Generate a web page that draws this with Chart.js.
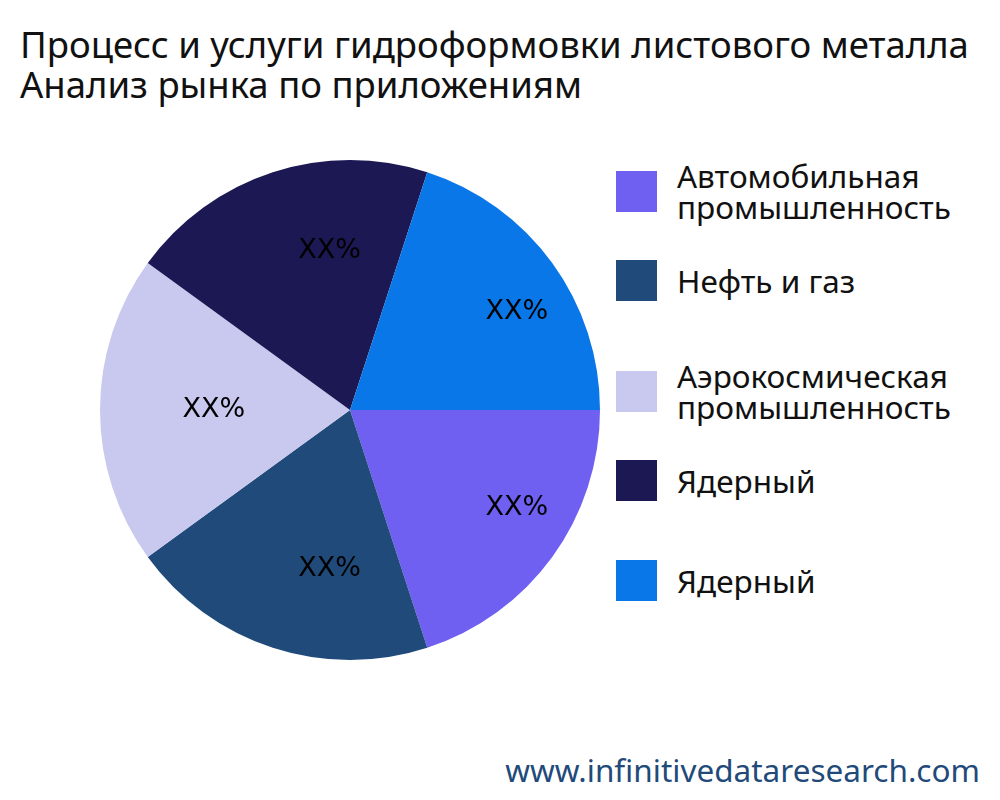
<!DOCTYPE html>
<html><head><meta charset="utf-8">
<script src="https://cdn.jsdelivr.net/npm/chart.js@4"></script>
<style>
body{margin:0;width:1000px;height:800px;background:#fff;font-family:"Noto Sans",sans-serif;position:relative;overflow:hidden}
#title{position:absolute;left:20px;top:24px;font-size:36.5px;line-height:40px;color:#111;white-space:nowrap}
#wrap{position:absolute;left:100px;top:160px;width:500px;height:500px}
.leg{position:absolute;left:616px;display:flex;align-items:center;font-size:31.5px;line-height:31px;color:#111;white-space:nowrap}
.sw{width:41px;height:41px;margin-right:20px;flex:none}
#src{position:absolute;right:20px;top:748px;font-size:31.5px;color:#1F4A7A}
</style></head><body>
<div id="title">Процесс и услуги гидроформовки листового металла<br>Анализ рынка по приложениям</div>
<div id="wrap"><canvas id="c" width="500" height="500"></canvas></div>
<div id="legend"></div>
<div id="src">www.infinitivedataresearch.com</div>
<script>
const labels = ["Автомобильная промышленность", "Нефть и газ", "Аэрокосмическая промышленность", "Ядерный", "Ядерный"];
const legendText = ["Автомобильная<br>промышленность", "Нефть и газ", "Аэрокосмическая<br>промышленность", "Ядерный", "Ядерный"];
const values = [20, 20, 20, 20, 20];
const sliceLabels = ["XX%", "XX%", "XX%", "XX%", "XX%"];
const colors = ["#7060F2", "#1F4A7A", "#C9C8EE", "#1C1854", "#0A77E8"];
const legendTops = [160, 260, 360, 460, 560];

// Legend
const lg = document.getElementById("legend");
labels.forEach((l, i) => {
    lg.innerHTML += `<div class="leg" style="top:${legendTops[i]}px"><div class="sw" style="background:${colors[i]}"></div><div>${legendText[i]}</div></div>`;
});

// Slice labels (left-aligned at a point inside each slice)
const sliceText = {
    id: "sliceText",
    afterDatasetsDraw(chart) {
        const ctx = chart.ctx;
        ctx.save();
        ctx.font = "27px 'DejaVu Sans', sans-serif";
        ctx.fillStyle = "#000";
        ctx.textAlign = "left";
        ctx.textBaseline = "middle";
        chart.getDatasetMeta(0).data.forEach((arc, i) => {
            const a = (arc.startAngle + arc.endAngle) / 2;
            const r = arc.outerRadius * 0.67;
            ctx.fillText(sliceLabels[i], arc.x + Math.cos(a) * r, arc.y + Math.sin(a) * r);
        });
        ctx.restore();
    }
};

new Chart(document.getElementById("c"), {
    type: "pie",
    data: { labels: labels, datasets: [{ data: values, backgroundColor: colors, borderWidth: 0 }] },
    options: {
        responsive: false,
        animation: false,
        rotation: 90,
        layout: { padding: 0 },
        plugins: { legend: { display: false }, tooltip: { enabled: false } }
    },
    plugins: [sliceText]
});
</script>
</body></html>
